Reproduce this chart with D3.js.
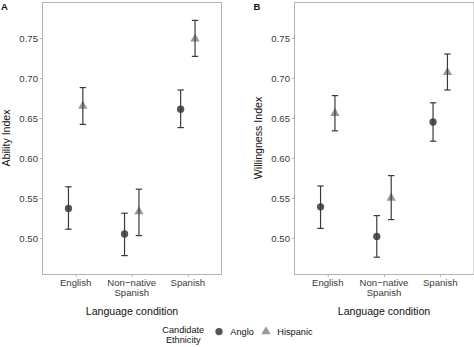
<!DOCTYPE html>
<html>
<head>
<meta charset="utf-8">
<script src="https://cdn.jsdelivr.net/npm/d3@7"></script>
<style>
  html, body { margin: 0; padding: 0; background: #fff; }
  svg { display: block; font-family: "Liberation Sans", Arial, Helvetica, sans-serif; }
</style>
</head>
<body>
<svg id="chart" width="474" height="347"></svg>
<script>
// ---- data ----
const categories = ["English", "Non-native Spanish", "Spanish"];
const categoryLabels = [["English"], ["Non\u2212native", "Spanish"], ["Spanish"]];
const groups = ["Anglo", "Hispanic"];
const yTicks = [0.50, 0.55, 0.60, 0.65, 0.70, 0.75];

// Panel A: Ability Index
const abilityAngloMean = [0.537, 0.505, 0.661];
const abilityAngloLow  = [0.511, 0.478, 0.638];
const abilityAngloHigh = [0.564, 0.531, 0.685];
const abilityHispMean  = [0.665, 0.533, 0.749];
const abilityHispLow   = [0.642, 0.503, 0.727];
const abilityHispHigh  = [0.688, 0.561, 0.772];

// Panel B: Willingness Index
const willAngloMean = [0.539, 0.502, 0.645];
const willAngloLow  = [0.512, 0.476, 0.621];
const willAngloHigh = [0.565, 0.528, 0.669];
const willHispMean  = [0.656, 0.550, 0.707];
const willHispLow   = [0.634, 0.523, 0.685];
const willHispHigh  = [0.678, 0.578, 0.730];

const panels = [
  { tag: "A", title: "Ability Index", x0: 42, x1: 222, titleX: 10, tagX: 1,
    series: [
      { group: "Anglo", mean: abilityAngloMean, low: abilityAngloLow, high: abilityAngloHigh },
      { group: "Hispanic", mean: abilityHispMean, low: abilityHispLow, high: abilityHispHigh }
    ] },
  { tag: "B", title: "Willingness Index", x0: 294, x1: 474.5, titleX: 261.5, tagX: 253.5,
    series: [
      { group: "Anglo", mean: willAngloMean, low: willAngloLow, high: willAngloHigh },
      { group: "Hispanic", mean: willHispMean, low: willHispLow, high: willHispHigh }
    ] }
];

// ---- drawing ----
const svg = d3.select("#chart");
const plotTop = 2, plotBottom = 274;
const frameCol = "#b3b3b3", tickTextCol = "#3a3a3a", barCol = "#3a3a3a";
const colorScale = d3.scaleOrdinal().domain(groups).range(["#555555", "#999999"]);
const shapeScale = d3.scaleOrdinal().domain(groups).range([d3.symbolCircle, d3.symbolTriangle]);
const sizeScale = d3.scaleOrdinal().domain(groups).range([42, 38]);

const y = d3.scaleLinear().domain([0.455, 0.795]).range([plotBottom, plotTop]);

panels.forEach(p => {
  const x = d3.scalePoint().domain(categories).range([p.x0, p.x1 - 0.5]).padding(0.6);
  const dodge = d3.scalePoint().domain(groups).range([-7.2, 7.2]);
  const g = svg.append("g");

  // panel border
  g.append("rect")
    .attr("x", p.x0 + 0.5).attr("y", plotTop + 0.5)
    .attr("width", p.x1 - p.x0 - 1).attr("height", plotBottom - plotTop)
    .attr("fill", "none").attr("stroke", frameCol).attr("stroke-width", 1);

  // y axis
  const yAxis = d3.axisLeft(y).tickValues(yTicks).tickFormat(d3.format(".2f"))
    .tickSize(2.5).tickPadding(2);
  const ya = g.append("g").attr("transform", `translate(${p.x0 + 0.5},0)`).call(yAxis);
  ya.select(".domain").remove();
  ya.selectAll(".tick line").attr("stroke", frameCol);
  ya.selectAll(".tick text").attr("fill", tickTextCol).attr("font-size", 9.6)
    .attr("font-family", "Liberation Sans, Arial, sans-serif");

  // x axis
  const xAxis = d3.axisBottom(x).tickSize(2.5).tickPadding(2).tickFormat(() => "");
  const xa = g.append("g").attr("transform", `translate(0,${plotBottom + 0.5})`).call(xAxis);
  xa.select(".domain").remove();
  xa.selectAll(".tick line").attr("stroke", frameCol);
  xa.selectAll(".tick text").remove();
  categories.forEach((c, i) => {
    const t = g.append("text").attr("x", x(c)).attr("y", 285.5)
      .attr("text-anchor", "middle").attr("font-size", 9.6).attr("fill", tickTextCol);
    categoryLabels[i].forEach((line, j) => {
      t.append("tspan").attr("x", x(c)).attr("dy", j === 0 ? 0 : 10.2).text(line);
    });
  });

  // axis titles
  g.append("text").attr("x", (p.x0 + Math.min(p.x1, 474)) / 2).attr("y", 315)
    .attr("text-anchor", "middle").attr("font-size", 10.6).attr("fill", "#111")
    .text("Language condition");
  g.append("text")
    .attr("transform", `translate(${p.titleX},${(plotTop + plotBottom) / 2}) rotate(-90)`)
    .attr("text-anchor", "middle").attr("font-size", 10.6).attr("fill", "#111")
    .text(p.title);

  // tag
  g.append("text").attr("x", p.tagX).attr("y", 10.3)
    .attr("font-size", 9.5).attr("font-weight", "bold").attr("fill", "#111").text(p.tag);

  // points then error bars
  p.series.forEach(s => {
    const pts = categories.map((c, i) => ({ c, m: s.mean[i], lo: s.low[i], hi: s.high[i] }));
    const cx = d => x(d.c) + dodge(s.group);
    g.selectAll(null).data(pts).enter().append("path")
      .attr("d", d3.symbol().type(shapeScale(s.group)).size(sizeScale(s.group)))
      .attr("transform", d => `translate(${cx(d)},${y(d.m)})`)
      .attr("fill", colorScale(s.group));
    const eb = g.selectAll(null).data(pts).enter().append("g")
      .attr("stroke", barCol).attr("stroke-width", 1.2).attr("fill", "none");
    eb.append("line").attr("x1", cx).attr("x2", cx)
      .attr("y1", d => y(d.lo)).attr("y2", d => y(d.hi));
    eb.append("line").attr("x1", d => cx(d) - 3.2).attr("x2", d => cx(d) + 3.2)
      .attr("y1", d => y(d.lo)).attr("y2", d => y(d.lo));
    eb.append("line").attr("x1", d => cx(d) - 3.2).attr("x2", d => cx(d) + 3.2)
      .attr("y1", d => y(d.hi)).attr("y2", d => y(d.hi));
  });
});

// legend
const lg = svg.append("g");
const lt = lg.append("text").attr("x", 183.3).attr("y", 333).attr("text-anchor", "middle")
  .attr("font-size", 9.2).attr("fill", "#111");
lt.append("tspan").attr("x", 183.3).attr("dy", 0).text("Candidate");
lt.append("tspan").attr("x", 183.3).attr("dy", 9.5).text("Ethnicity");
const legendX = d3.scaleOrdinal().domain(groups).range([219, 266]);
groups.forEach(gname => {
  lg.append("path")
    .attr("d", d3.symbol().type(shapeScale(gname)).size(sizeScale(gname)))
    .attr("transform", `translate(${legendX(gname)},331.6)`)
    .attr("fill", colorScale(gname));
  lg.append("text").attr("x", legendX(gname) + 11.3).attr("y", 334.7)
    .attr("font-size", 9.2).attr("fill", "#111").text(gname);
});
</script>
</body>
</html>
